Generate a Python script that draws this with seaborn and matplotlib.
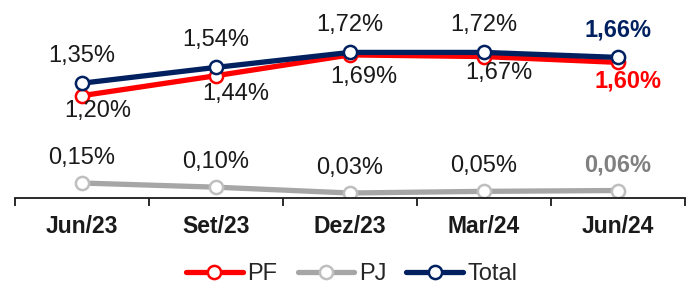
import matplotlib
matplotlib.use("Agg")
import matplotlib.pyplot as plt
import seaborn as sns
import pandas as pd
from matplotlib.lines import Line2D

categories = ["Jun/23", "Set/23", "Dez/23", "Mar/24", "Jun/24"]
pf = [1.20, 1.44, 1.69, 1.67, 1.60]
pj = [0.15, 0.10, 0.03, 0.05, 0.06]
total = [1.35, 1.54, 1.72, 1.72, 1.66]

# label offsets in pixels (placement only)
pf_dx = [16, 20, 14, 15, 10]
pf_dy = [-15, -18, -22, -16, -19]

sns.set_theme(style="white")
plt.rcParams["font.family"] = ["Liberation Sans", "DejaVu Sans"]

fig = plt.figure(figsize=(6.89, 2.85), dpi=100)
ax = fig.add_axes([15/689, 87/285, 670/689, 198/285])

series = [
    ("PF", pf, "#FF0000", "#FF0000"),
    ("PJ", pj, "#A6A6A6", "#BFBFBF"),
    ("Total", total, "#002060", "#002060"),
]

LW = 3.8
for name, vals, col, edge in series:
    df = pd.DataFrame({"cat": categories, "val": vals})
    sns.lineplot(data=df, x="cat", y="val", ax=ax, color=col, lw=LW, sort=False,
                 marker="o", markersize=9.5, markerfacecolor="white",
                 markeredgecolor=edge, markeredgewidth=1.8, legend=False)

FS = 17
def fmt(v):
    return f"{v:.2f}%".replace(".", ",")

n = len(categories)
for i, v in enumerate(total):
    last = i == n - 1
    ax.annotate(fmt(v), (i, v), xytext=(0, 27.5), textcoords="offset pixels",
                ha="center", va="center", fontsize=FS,
                color="#002060" if last else "#1a1a1a", fontweight="bold" if last else "normal")
for i, v in enumerate(pf):
    last = i == n - 1
    ax.annotate(fmt(v), (i, v), xytext=(pf_dx[i], pf_dy[i]), textcoords="offset pixels",
                ha="center", va="center", fontsize=FS,
                color="#FF0000" if last else "#1a1a1a", fontweight="bold" if last else "normal")
for i, v in enumerate(pj):
    last = i == n - 1
    ax.annotate(fmt(v), (i, v), xytext=(0, 25.5), textcoords="offset pixels",
                ha="center", va="center", fontsize=FS,
                color="#808080" if last else "#1a1a1a", fontweight="bold" if last else "normal")

ax.set_xlim(-0.5, 4.5)
ax.set_ylim(-0.03, 2.35)
for s in ["top", "left", "right"]:
    ax.spines[s].set_visible(False)
ax.spines["bottom"].set_color("#1a1a1a")
ax.spines["bottom"].set_linewidth(1.3)
ax.set_yticks([])
ax.set_xticks([i - 0.5 for i in range(n + 1)])
ax.set_xticklabels([])
ax.set_xticks(range(n), minor=True)
ax.set_xticklabels(categories, minor=True, fontsize=16.5, fontweight="bold", color="#1a1a1a")
ax.tick_params(axis="x", which="major", length=6, width=1.3, color="#1a1a1a", direction="out", bottom=True)
ax.tick_params(axis="x", which="minor", length=0, pad=12, bottom=True)
ax.set_xlabel("")
ax.set_ylabel("")

handles = [Line2D([], [], color=c, lw=LW, marker="o", markersize=9.5, markerfacecolor="white",
                  markeredgecolor=e, markeredgewidth=1.8) for _, _, c, e in series]
fig.legend(handles, [s[0] for s in series], loc="center", bbox_to_anchor=(352/689, 10.5/285),
           ncol=3, frameon=False, fontsize=17, handlelength=2.4, columnspacing=0.85,
           handletextpad=0.2, borderpad=0, borderaxespad=0)

fig.savefig("out.png", dpi=100)
